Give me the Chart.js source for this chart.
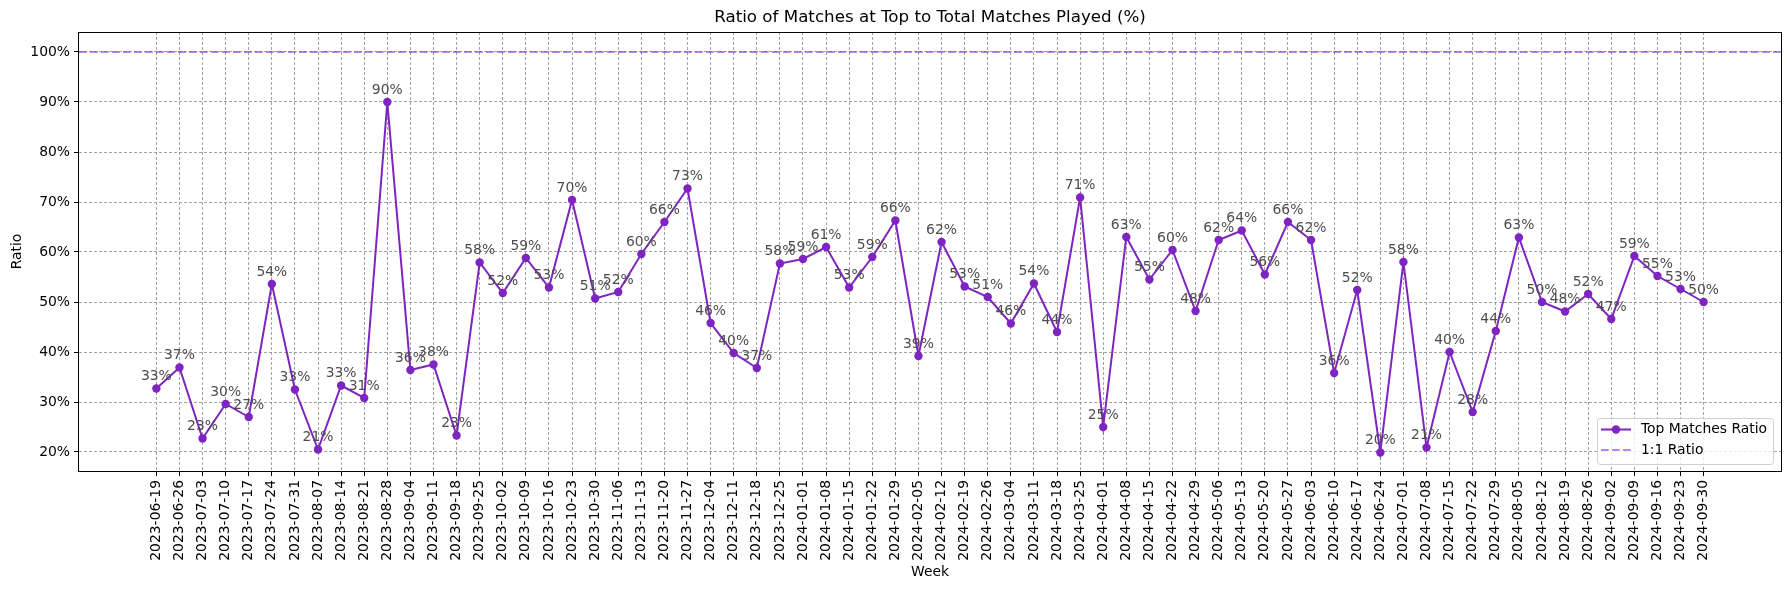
<!DOCTYPE html>
<html>
<head>
<meta charset="utf-8">
<script src="https://cdn.jsdelivr.net/npm/chart.js@4.4.1/dist/chart.umd.min.js"></script>
<style>
  html, body { margin: 0; padding: 0; background: #fff; }
</style>
</head>
<body>
<canvas id="ratioChart" width="1790" height="590"></canvas>
<script>
const weeks = [
  '2023-06-19', '2023-06-26', '2023-07-03', '2023-07-10', '2023-07-17', '2023-07-24',
  '2023-07-31', '2023-08-07', '2023-08-14', '2023-08-21', '2023-08-28', '2023-09-04',
  '2023-09-11', '2023-09-18', '2023-09-25', '2023-10-02', '2023-10-09', '2023-10-16',
  '2023-10-23', '2023-10-30', '2023-11-06', '2023-11-13', '2023-11-20', '2023-11-27',
  '2023-12-04', '2023-12-11', '2023-12-18', '2023-12-25', '2024-01-01', '2024-01-08',
  '2024-01-15', '2024-01-22', '2024-01-29', '2024-02-05', '2024-02-12', '2024-02-19',
  '2024-02-26', '2024-03-04', '2024-03-11', '2024-03-18', '2024-03-25', '2024-04-01',
  '2024-04-08', '2024-04-15', '2024-04-22', '2024-04-29', '2024-05-06', '2024-05-13',
  '2024-05-20', '2024-05-27', '2024-06-03', '2024-06-10', '2024-06-17', '2024-06-24',
  '2024-07-01', '2024-07-08', '2024-07-15', '2024-07-22', '2024-07-29', '2024-08-05',
  '2024-08-12', '2024-08-19', '2024-08-26', '2024-09-02', '2024-09-09', '2024-09-16',
  '2024-09-23', '2024-09-30'
];

// top matches / total matches, in percent
const topRatio = [
  32.7, 36.9, 22.7, 29.6, 27.0, 53.6,
  32.5, 20.5, 33.3, 30.8, 90.0, 36.4,
  37.5, 23.3, 57.9, 51.8, 58.8, 52.9,
  70.4, 50.7, 52.0, 59.6, 66.0, 72.7,
  45.8, 39.8, 36.8, 57.7, 58.6, 61.0,
  52.9, 59.0, 66.3, 39.2, 62.0, 53.1,
  51.0, 45.7, 53.7, 44.0, 70.9, 25.0,
  63.0, 54.5, 60.4, 48.2, 62.4, 64.3,
  55.5, 66.0, 62.4, 35.8, 52.4, 19.9,
  58.0, 20.9, 40.0, 28.0, 44.2, 62.9,
  50.0, 48.1, 51.6, 46.6, 59.2, 55.2,
  52.6, 50.0
];

const yTicks = [20, 30, 40, 50, 60, 70, 80, 90, 100];
const refRatio = 100;

const purple = '#7e24c0';
const refPurple = 'rgba(140, 70, 215, 0.65)';
const fontFamily = "'DejaVu Sans', sans-serif";

const extras = {
  id: 'extras',
  beforeDatasetsDraw(chart) {
    const { ctx, chartArea: a, scales: { y } } = chart;
    const py = y.getPixelForValue(refRatio);
    ctx.save();
    ctx.strokeStyle = refPurple;
    ctx.lineWidth = 2;
    ctx.setLineDash([7.7, 3.3]);
    ctx.beginPath();
    ctx.moveTo(a.left, py);
    ctx.lineTo(a.right, py);
    ctx.stroke();
    ctx.restore();
  },
  afterDatasetsDraw(chart) {
    const { ctx } = chart;
    const pts = chart.getDatasetMeta(0).data;
    ctx.save();
    ctx.font = `13.9px ${fontFamily}`;
    ctx.fillStyle = '#4d4d4d';
    ctx.textAlign = 'center';
    ctx.textBaseline = 'middle';
    pts.forEach((p, i) => {
      ctx.fillText(Math.round(topRatio[i]) + '%', p.x, p.y - 12);
    });
    ctx.restore();
  },
  afterDraw(chart) {
    const { ctx, chartArea: a } = chart;
    ctx.save();
    // frame
    ctx.strokeStyle = '#000';
    ctx.lineWidth = 1;
    ctx.strokeRect(Math.round(a.left) - 0.5, Math.round(a.top) + 0.5,
      Math.round(a.right - a.left) + 1, Math.round(a.bottom - a.top));

    // title + axis titles
    ctx.fillStyle = '#000';
    ctx.textAlign = 'center';
    ctx.font = `16.7px ${fontFamily}`;
    ctx.textBaseline = 'alphabetic';
    ctx.fillText('Ratio of Matches at Top to Total Matches Played (%)', (a.left + a.right) / 2, 22);
    ctx.font = `13.9px ${fontFamily}`;
    ctx.textBaseline = 'middle';
    ctx.fillText('Week', (a.left + a.right) / 2, 572);
    ctx.save();
    ctx.translate(17, (a.top + a.bottom) / 2);
    ctx.rotate(-Math.PI / 2);
    ctx.fillText('Ratio', 0, 0);
    ctx.restore();

    // legend, lower right
    const bx = 1597, by = 418, bw = 176, bh = 46;
    ctx.beginPath();
    ctx.roundRect(bx + 0.5, by + 0.5, bw, bh, 3);
    ctx.fillStyle = 'rgba(255,255,255,0.8)';
    ctx.fill();
    ctx.strokeStyle = '#d0d0d0';
    ctx.stroke();

    const r1 = by + 11.5, r2 = by + 32;
    ctx.strokeStyle = purple;
    ctx.lineWidth = 2;
    ctx.beginPath();
    ctx.moveTo(bx + 4, r1);
    ctx.lineTo(bx + 34, r1);
    ctx.stroke();
    ctx.fillStyle = purple;
    ctx.beginPath();
    ctx.arc(bx + 19, r1, 4.2, 0, Math.PI * 2);
    ctx.fill();

    ctx.strokeStyle = refPurple;
    ctx.setLineDash([7.7, 3.3]);
    ctx.beginPath();
    ctx.moveTo(bx + 4, r2);
    ctx.lineTo(bx + 34, r2);
    ctx.stroke();
    ctx.setLineDash([]);

    ctx.fillStyle = '#000';
    ctx.textAlign = 'left';
    ctx.font = `13.9px ${fontFamily}`;
    ctx.fillText('Top Matches Ratio', bx + 44, r1);
    ctx.fillText('1:1 Ratio', bx + 44, r2);
    ctx.restore();
  }
};

new Chart(document.getElementById('ratioChart'), {
  type: 'line',
  data: {
    datasets: [{
      label: 'Top Matches Ratio',
      data: topRatio.map((v, i) => ({ x: i, y: v })),
      borderColor: purple,
      backgroundColor: purple,
      borderWidth: 2,
      pointRadius: 4.2,
      pointHoverRadius: 4.2,
      pointBorderWidth: 0,
      tension: 0
    }]
  },
  options: {
    responsive: false,
    animation: false,
    devicePixelRatio: 1,
    layout: { padding: { top: 32, right: 9, left: 0, bottom: 0 } },
    plugins: { legend: { display: false }, tooltip: { enabled: false } },
    scales: {
      x: {
        type: 'linear',
        min: -3.35,
        max: weeks.length - 1 + 3.35,
        afterBuildTicks: s => { s.ticks = weeks.map((_, i) => ({ value: i })); },
        afterFit: s => { s.height = 119; },
        ticks: {
          autoSkip: false,
          maxRotation: 90,
          minRotation: 90,
          padding: 4,
          color: '#000',
          font: { family: fontFamily, size: 13.9 },
          callback: v => weeks[v]
        },
        grid: {
          color: '#8a8a8a',
          lineWidth: 0.8,
          tickLength: 5,
          tickColor: '#000',
          tickWidth: 1,
          tickBorderDash: []
        },
        border: { display: false, dash: [3, 2] }
      },
      y: {
        min: 16.2,
        max: 104,
        afterBuildTicks: s => { s.ticks = yTicks.map(v => ({ value: v })); },
        afterFit: s => { s.width = 79; },
        ticks: {
          padding: 4,
          color: '#000',
          font: { family: fontFamily, size: 13.9 },
          callback: v => v + '%'
        },
        grid: {
          color: '#8a8a8a',
          lineWidth: 0.8,
          tickLength: 5,
          tickColor: '#000',
          tickWidth: 1,
          tickBorderDash: []
        },
        border: { display: false, dash: [3, 2] }
      }
    }
  },
  plugins: [extras]
});
</script>
</body>
</html>
